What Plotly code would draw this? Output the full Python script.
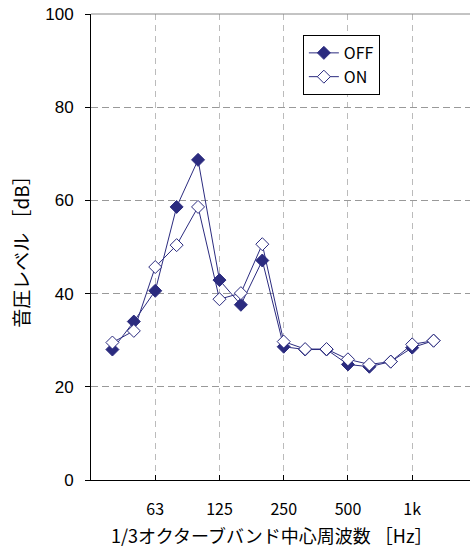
import plotly.graph_objects as go

bands = ["40", "50", "63", "80", "100", "125", "160", "200", "250", "315",
         "400", "500", "630", "800", "1k", "1.25k"]
off_vals = [28.0, 34.0, 40.6, 58.6, 68.7, 42.9, 37.6, 47.1, 28.6, 28.0,
            28.0, 24.8, 24.3, 25.4, 28.4, 29.9]
on_vals = [29.5, 32.0, 45.7, 50.4, 58.6, 38.8, 40.1, 50.6, 29.7, 28.1,
           28.1, 25.9, 24.8, 25.4, 29.1, 29.9]
tick_vals = ["63", "125", "250", "500", "1k"]
y_ticks = [0, 20, 40, 60, 80, 100]
x_title = "1/3オクターブバンド中心周波数 ［Hz］"
y_title = "音圧レベル ［dB］"

NAVY = "#2B2B7F"
JP = "Noto Sans CJK JP"

fig = go.Figure()
fig.add_trace(go.Scatter(
    x=bands, y=off_vals, name="OFF", mode="lines+markers",
    line=dict(color=NAVY, width=1),
    marker=dict(symbol="diamond", size=10, color=NAVY, line=dict(color=NAVY, width=1)),
))
fig.add_trace(go.Scatter(
    x=bands, y=on_vals, name="ON", mode="lines+markers",
    line=dict(color=NAVY, width=1),
    marker=dict(symbol="diamond", size=10, color="white", line=dict(color=NAVY, width=1)),
))

fig.update_layout(
    width=473, height=551,
    margin=dict(l=91, r=3, t=14, b=71),
    paper_bgcolor="white", plot_bgcolor="white",
    showlegend=True,
    legend=dict(
        x=0.559, y=0.955, xanchor="left", yanchor="top",
        bgcolor="white", bordercolor="black", borderwidth=1,
        font=dict(family=JP, size=16, color="black"),
        itemwidth=30,
    ),
    xaxis=dict(
        type="category", categoryorder="array", categoryarray=bands,
        range=[-1, 16.7],
        tickmode="array", tickvals=tick_vals, ticktext=tick_vals,
        showgrid=True, gridcolor="#BBBBBB", griddash="6px,5px", gridwidth=1,
        showline=True, linecolor="black", linewidth=1,
        ticks="inside", ticklen=5, tickcolor="black",
        ticklabelstandoff=15,
        tickfont=dict(family=JP, size=16, color="black"),
        zeroline=False,
    ),
    yaxis=dict(
        range=[0, 100], tickmode="array", tickvals=y_ticks,
        showgrid=True, gridcolor="#999999", griddash="7px,4px", gridwidth=1,
        showline=True, linecolor="black", linewidth=1,
        ticks="outside", ticklen=5, tickcolor="black",
        ticklabelstandoff=8,
        tickfont=dict(family="Liberation Sans", size=17, color="black"),
        title=dict(text=y_title,
                   font=dict(family=JP, size=19, color="black"), standoff=10),
        zeroline=False,
    ),
)
fig.add_annotation(
    text=x_title, xref="paper", yref="paper", x=0.475, y=0, yshift=-55,
    xanchor="center", yanchor="middle", showarrow=False,
    font=dict(family=JP, size=18, color="black"),
)
fig.add_shape(type="line", xref="paper", yref="paper", x0=0, x1=1, y0=1, y1=1,
              line=dict(color="#888888", width=1))

fig.write_html("out.html")
